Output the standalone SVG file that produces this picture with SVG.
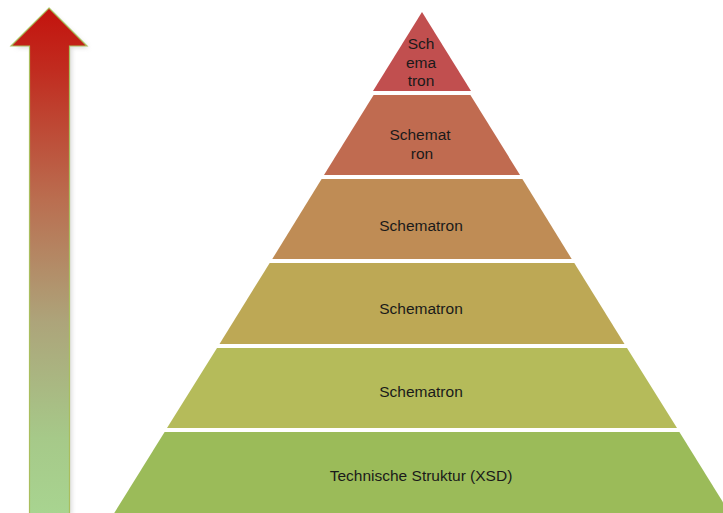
<svg xmlns="http://www.w3.org/2000/svg" width="723" height="513" viewBox="0 0 723 513">
<defs>
<linearGradient id="arrowGrad" x1="0" y1="0" x2="0" y2="1">
<stop offset="0" stop-color="#C3130D"/>
<stop offset="0.12" stop-color="#C12B1F"/>
<stop offset="0.38" stop-color="#BA6E50"/>
<stop offset="0.62" stop-color="#ADA47A"/>
<stop offset="0.85" stop-color="#A6C989"/>
<stop offset="1" stop-color="#A8D490"/>
</linearGradient>
<filter id="shadow" x="-20%" y="-5%" width="140%" height="110%">
<feGaussianBlur stdDeviation="2"/>
</filter>
<style>
.lbl{font-family:"Liberation Sans",Arial,sans-serif;font-size:15.5px;fill:#1a1a1a;text-anchor:middle}
.seg{stroke:none}
</style>
</defs>
<g id="arrow">
<polygon points="51,11 89,48 72,48 72,515 33,515 33,48 16,48" fill="#bbbbbb" opacity="0.5" filter="url(#shadow)"/>
<polygon points="49,8 87,46 69.5,46 69.5,514 29.5,514 29.5,46 11,46" fill="url(#arrowGrad)" stroke="#A9BE5E" stroke-width="1.2"/>
</g>
<g id="level1">
<polygon class="seg" points="422,12 471,91 373,91" fill="#C14F4F"/>
<text class="lbl" x="421" y="49">Sch</text>
<text class="lbl" x="421" y="68">ema</text>
<text class="lbl" x="421" y="86">tron</text>
</g>
<g id="level2">
<polygon class="seg" points="373.6,95 470.4,95 520,175 324,175" fill="#C06B50"/>
<text class="lbl" x="420" y="140">Schemat</text>
<text class="lbl" x="422" y="159">ron</text>
</g>
<g id="level3">
<polygon class="seg" points="321.6,179 522.4,179 571.7,259 272.3,259" fill="#BF8C55"/>
<text class="lbl" x="421" y="231">Schematron</text>
</g>
<g id="level4">
<polygon class="seg" points="269.7,263 574.3,263 624.5,344 219.5,344" fill="#BDA855"/>
<text class="lbl" x="421" y="314">Schematron</text>
</g>
<g id="level5">
<polygon class="seg" points="217,348 627,348 677,428 167,428" fill="#B5BB5A"/>
<text class="lbl" x="421" y="397">Schematron</text>
</g>
<g id="level6">
<polygon class="seg" points="164.6,432 679.4,432 731,515 113,515" fill="#9BBB59"/>
<text class="lbl" x="421" y="481">Technische Struktur (XSD)</text>
</g>
<g id="connectors"/>
</svg>
